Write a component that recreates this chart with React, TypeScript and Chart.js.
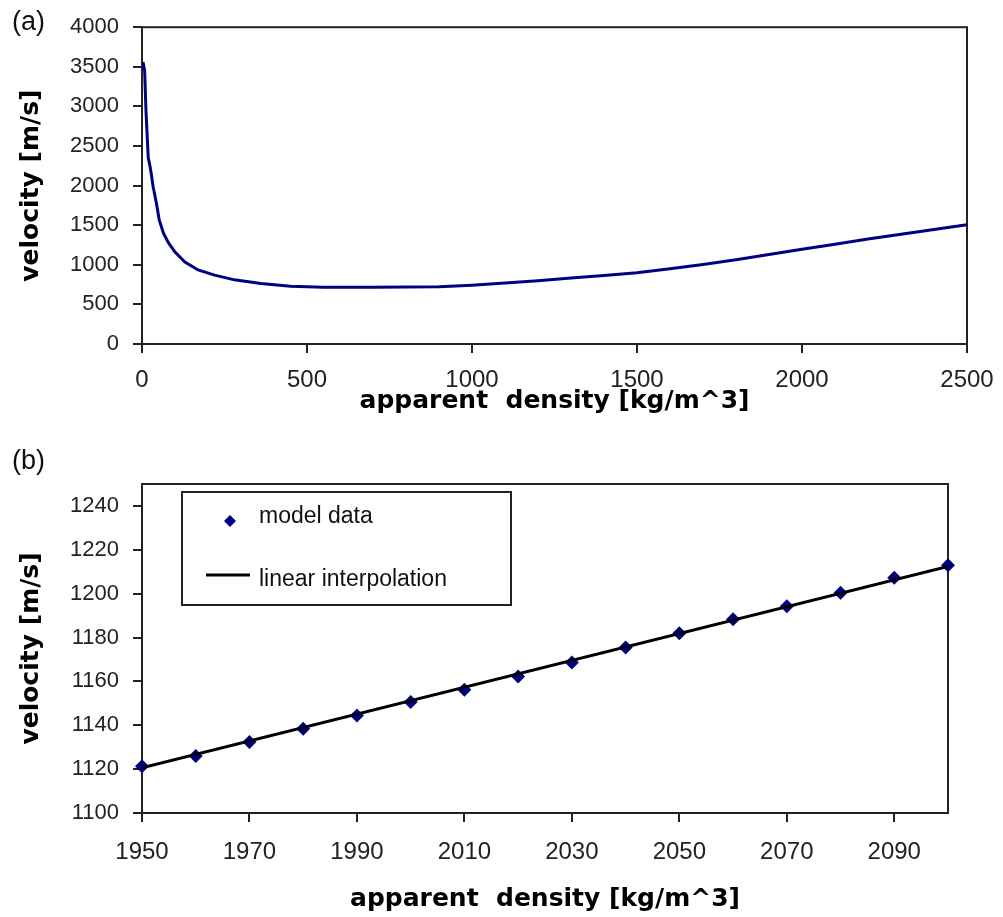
import React, { useEffect, useRef } from "react";
import { Chart, registerables } from "chart.js";

Chart.register(...registerables);

// ---------- Panel (a) data ----------
const densityA = [3, 8, 12, 16, 19, 24, 28, 34, 44, 52, 65, 80, 100, 130, 170, 220, 280, 360, 450, 550, 700, 900, 1000, 1100, 1200, 1300, 1400, 1500, 1600, 1700, 1800, 1900, 2000, 2100, 2200, 2300, 2400, 2500];
const velocityA = [3560, 3450, 2950, 2600, 2350, 2250, 2150, 1980, 1770, 1570, 1400, 1280, 1160, 1035, 935, 870, 810, 765, 730, 718, 715, 722, 742, 770, 800, 832, 865, 900, 950, 1005, 1065, 1130, 1195, 1260, 1325, 1385, 1445, 1505];
const xTicksA = [0, 500, 1000, 1500, 2000, 2500];
const yTicksA = [0, 500, 1000, 1500, 2000, 2500, 3000, 3500, 4000];

// ---------- Panel (b) data ----------
const densityB = [1950, 1960, 1970, 1980, 1990, 2000, 2010, 2020, 2030, 2040, 2050, 2060, 2070, 2080, 2090, 2100];
const velocityB = [1121.3, 1126, 1132.4, 1138.4, 1144.5, 1150.6, 1156.2, 1162.2, 1168.6, 1175.5, 1182, 1188.3, 1194.3, 1200.4, 1207.2, 1213];
const fitDensityB = [1950, 2100];
const fitVelocityB = [1120.6, 1212.4];
const xTicksB = [1950, 1970, 1990, 2010, 2030, 2050, 2070, 2090];
const yTicksB = [1100, 1120, 1140, 1160, 1180, 1200, 1220, 1240];
const legendLabelsB = ["model data", "linear interpolation"];

const panelLabels = ["(a)", "(b)"];
const xTitle = "apparent  density [kg/m^3]";
const yTitle = "velocity [m/s]";

const NAVY = "#000080";
const AXIS = "#222";
const TICK_FONT = '"Liberation Sans", Arial, sans-serif';
const TITLE_FONT = '"DejaVu Sans", "Liberation Sans", sans-serif';

const framePlugin = {
  id: "frame",
  beforeDatasetsDraw(chart: any) {
    const { ctx, chartArea: a } = chart;
    ctx.save();
    ctx.strokeStyle = AXIS;
    ctx.lineWidth = 2;
    ctx.strokeRect(a.left, a.top, a.right - a.left, a.bottom - a.top);
    ctx.restore();
  },
};

const boxLegendPlugin = {
  id: "boxLegend",
  afterDraw(chart: any) {
    const { ctx, chartArea: a } = chart;
    const bx = a.left + 40;
    const by = a.top + 8;
    const bw = 329;
    const bh = 113;
    ctx.save();
    ctx.fillStyle = "#fff";
    ctx.fillRect(bx, by, bw, bh);
    ctx.strokeStyle = AXIS;
    ctx.lineWidth = 2;
    ctx.strokeRect(bx, by, bw, bh);
    // diamond symbol
    const dx = bx + 48;
    const dy = by + 29;
    const r = 6;
    ctx.fillStyle = NAVY;
    ctx.beginPath();
    ctx.moveTo(dx, dy - r);
    ctx.lineTo(dx + r, dy);
    ctx.lineTo(dx, dy + r);
    ctx.lineTo(dx - r, dy);
    ctx.closePath();
    ctx.fill();
    // line symbol
    ctx.strokeStyle = "#000";
    ctx.lineWidth = 3;
    ctx.beginPath();
    ctx.moveTo(bx + 24, by + 83);
    ctx.lineTo(bx + 68, by + 83);
    ctx.stroke();
    // texts
    ctx.fillStyle = "#111";
    ctx.font = "23px " + TICK_FONT;
    ctx.textBaseline = "alphabetic";
    ctx.textAlign = "left";
    ctx.fillText(legendLabelsB[0], bx + 77, by + 31);
    ctx.fillText(legendLabelsB[1], bx + 77, by + 94);
    ctx.restore();
  },
};

function axisCommon(ticksList: number[], fitFn: (s: any) => void, tickPad: number, fontSize: number, title: string, titlePad: any) {
  return {
    type: "linear",
    afterBuildTicks: (axis: any) => {
      axis.ticks = ticksList.map((v) => ({ value: v }));
    },
    afterFit: fitFn,
    grid: { drawOnChartArea: false, drawTicks: true, tickLength: 9, color: AXIS, lineWidth: 2 },
    border: { display: false },
    ticks: {
      padding: tickPad,
      color: "#222",
      autoSkip: false,
      maxRotation: 0,
      font: { family: TICK_FONT, size: fontSize },
      callback: (v: any) => String(v),
    },
    title: {
      display: true,
      text: title,
      color: "#000",
      font: { family: TITLE_FONT, size: 25, weight: "bold" },
      padding: titlePad,
    },
  };
}

const fitX = (h: number) => (s: any) => {
  s.height = h;
  s.paddingLeft = 0;
  s.paddingRight = 0;
};
const fitY = (w: number) => (s: any) => {
  s.width = w;
};

export default function App() {
  const refA = useRef<HTMLCanvasElement>(null);
  const refB = useRef<HTMLCanvasElement>(null);

  useEffect(() => {
    const chartA = new Chart(refA.current as HTMLCanvasElement, {
      type: "line",
      data: {
        datasets: [
          {
            data: densityA.map((d, i) => ({ x: d, y: velocityA[i] })),
            borderColor: NAVY,
            borderWidth: 3,
            pointRadius: 0,
            tension: 0,
            fill: false,
          },
        ],
      },
      options: {
        responsive: false,
        animation: false,
        events: [],
        layout: { padding: { left: 0, right: 36, top: 19, bottom: 0 } },
        plugins: { legend: { display: false }, tooltip: { enabled: false } },
        scales: {
          x: {
            ...axisCommon(xTicksA, fitX(96), 13, 24, xTitle, { top: 0, bottom: 24 }),
            min: 0,
            max: 2500,
          },
          y: {
            ...axisCommon(yTicksA, fitY(142), 14, 22, yTitle, { top: 16, bottom: 0 }),
            min: 0,
            max: 4000,
          },
        },
      } as any,
      plugins: [framePlugin],
    } as any);

    const chartB = new Chart(refB.current as HTMLCanvasElement, {
      type: "line",
      data: {
        datasets: [
          {
            label: legendLabelsB[1],
            data: fitDensityB.map((d, i) => ({ x: d, y: fitVelocityB[i] })),
            borderColor: "#000",
            borderWidth: 3,
            pointRadius: 0,
            tension: 0,
            fill: false,
          },
          {
            label: legendLabelsB[0],
            data: densityB.map((d, i) => ({ x: d, y: velocityB[i] })),
            showLine: false,
            pointStyle: "rectRot",
            pointRadius: 7,
            pointBackgroundColor: NAVY,
            pointBorderColor: NAVY,
            pointBorderWidth: 0,
            clip: false,
          },
        ],
      },
      options: {
        responsive: false,
        animation: false,
        events: [],
        layout: { padding: { left: 0, right: 55, top: 44, bottom: 0 } },
        plugins: { legend: { display: false }, tooltip: { enabled: false } },
        scales: {
          x: {
            ...axisCommon(xTicksB, fitX(104), 16, 24, xTitle, { top: 0, bottom: 3 }),
            min: 1950,
            max: 2100,
          },
          y: {
            ...axisCommon(yTicksB, fitY(142), 14, 22, yTitle, { top: 16, bottom: 0 }),
            min: 1100,
            max: 1250,
          },
        },
      } as any,
      plugins: [framePlugin, boxLegendPlugin],
    } as any);

    return () => {
      chartA.destroy();
      chartB.destroy();
    };
  }, []);

  const labelStyle: React.CSSProperties = {
    position: "absolute",
    left: 12,
    font: '27px "Liberation Sans", Arial, sans-serif',
    color: "#111",
    lineHeight: "normal",
  };

  return (
    <div style={{ position: "fixed", left: 0, top: 0, width: 1003, height: 917, overflow: "hidden", background: "#fff" }}>
      <canvas ref={refA} width={1003} height={440} style={{ position: "absolute", left: 0, top: 0 }} />
      <canvas ref={refB} width={1003} height={477} style={{ position: "absolute", left: 0, top: 440 }} />
      <span style={{ ...labelStyle, top: 6 }}>{panelLabels[0]}</span>
      <span style={{ ...labelStyle, top: 445 }}>{panelLabels[1]}</span>
    </div>
  );
}
